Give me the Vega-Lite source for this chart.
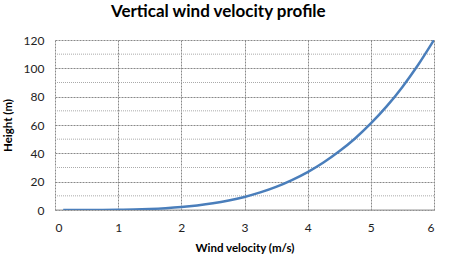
{
  "$schema": "https://vega.github.io/schema/vega-lite/v6.json",
  "width": 379,
  "height": 170,
  "autosize": "none",
  "padding": {"left": 55, "top": 40, "right": 20, "bottom": 52},
  "background": "white",
  "title": {
    "text": "Vertical wind velocity profile",
    "font": "Lato",
    "fontSize": 17,
    "fontWeight": "bold",
    "color": "#000000",
    "anchor": "middle",
    "frame": "bounds",
    "offset": 13
  },
  "config": {
    "view": {"stroke": null},
    "axis": {
      "labelFont": "Lato",
      "labelFontSize": 12,
      "labelColor": "#222222",
      "labelOverlap": false,
      "titleFont": "Lato",
      "titleFontSize": 11.5,
      "titleFontWeight": "bold",
      "titleColor": "#000000",
      "ticks": false,
      "domain": false,
      "grid": true,
      "gridColor": "#888888",
      "gridDash": [2, 1],
      "gridWidth": 1
    }
  },
  "data": {
    "values": [
      {"v": 0.13, "h": 0.0},
      {"v": 0.5, "h": 0.012},
      {"v": 0.75, "h": 0.055},
      {"v": 1.0, "h": 0.158},
      {"v": 1.25, "h": 0.36},
      {"v": 1.5, "h": 0.71},
      {"v": 1.75, "h": 1.26},
      {"v": 2.0, "h": 2.06},
      {"v": 2.25, "h": 3.2},
      {"v": 2.5, "h": 4.7},
      {"v": 2.75, "h": 6.7},
      {"v": 3.0, "h": 9.23},
      {"v": 3.25, "h": 12.4},
      {"v": 3.5, "h": 16.3},
      {"v": 3.75, "h": 21.1},
      {"v": 4.0, "h": 26.75},
      {"v": 4.25, "h": 33.5},
      {"v": 4.5, "h": 41.4},
      {"v": 4.75, "h": 50.5},
      {"v": 5.0, "h": 61.1},
      {"v": 5.25, "h": 73.1},
      {"v": 5.5, "h": 86.9},
      {"v": 5.75, "h": 102.5},
      {"v": 6.0, "h": 120.0}
    ]
  },
  "layer": [
    {
      "mark": {"type": "rule", "color": "#aaaaaa", "strokeDash": [1, 1], "strokeWidth": 1},
      "data": {"values": [{"y": 10}, {"y": 30}, {"y": 50}, {"y": 70}, {"y": 90}, {"y": 110}]},
      "encoding": {
        "y": {
          "field": "y",
          "type": "quantitative",
          "scale": {"domain": [0, 120], "nice": false},
          "axis": {"values": [0, 20, 40, 60, 80, 100, 120], "title": "Height (m)", "labelPadding": 11, "titlePadding": 10}
        }
      }
    },
    {
      "mark": {"type": "rule", "color": "#999999", "strokeWidth": 1},
      "data": {"values": [{"y": 0}]},
      "encoding": {
        "y": {
          "field": "y",
          "type": "quantitative",
          "scale": {"domain": [0, 120], "nice": false},
          "axis": {"values": [0, 20, 40, 60, 80, 100, 120], "title": "Height (m)", "labelPadding": 11, "titlePadding": 10}
        }
      }
    },
    {
      "mark": {"type": "line", "color": "#4A7EBB", "strokeWidth": 2.5, "interpolate": "monotone", "clip": true},
      "encoding": {
        "x": {
          "field": "v",
          "type": "quantitative",
          "scale": {"domain": [0, 6], "nice": false},
          "axis": {"values": [0, 1, 2, 3, 4, 5, 6], "title": "Wind velocity (m/s)", "labelPadding": 12, "titlePadding": 9}
        },
        "y": {
          "field": "h",
          "type": "quantitative",
          "scale": {"domain": [0, 120], "nice": false},
          "axis": {"values": [0, 20, 40, 60, 80, 100, 120], "title": "Height (m)", "labelPadding": 11, "titlePadding": 10}
        }
      }
    }
  ]
}
